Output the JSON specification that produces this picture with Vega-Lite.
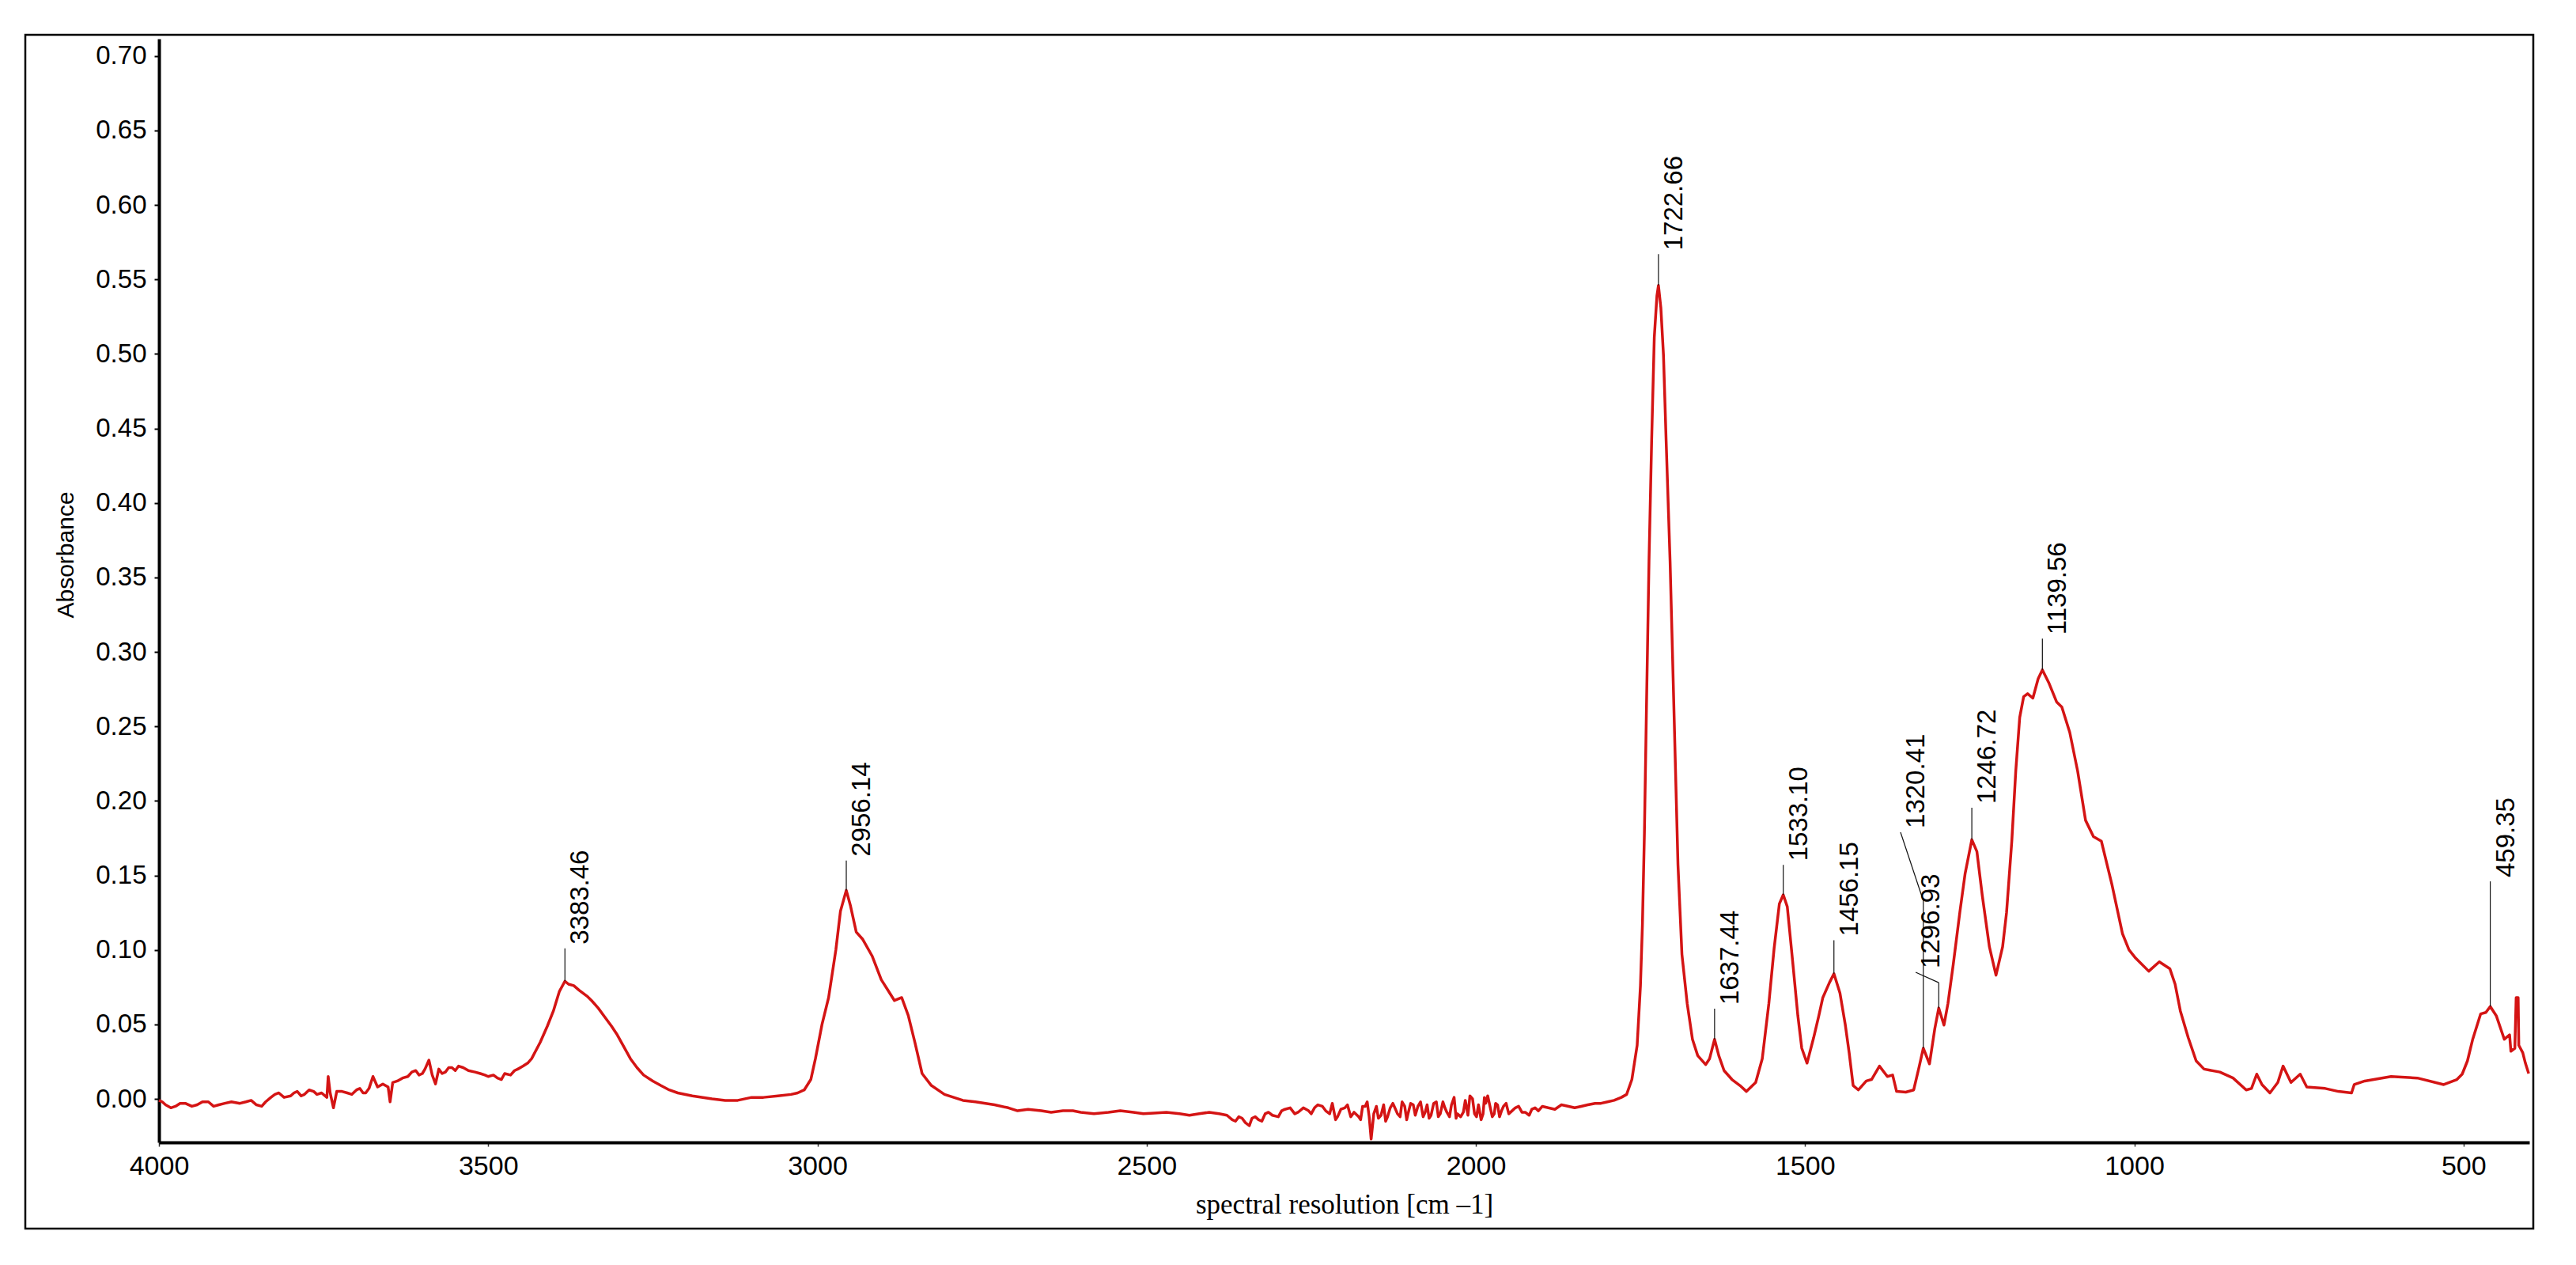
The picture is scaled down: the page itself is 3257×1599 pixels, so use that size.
{
  "$schema": "https://vega.github.io/schema/vega-lite/v6.json",
  "width": 3171,
  "height": 1509,
  "autosize": {"type": "none"},
  "padding": {"left": 32, "top": 44, "right": 54, "bottom": 46},
  "background": "white",
  "config": {"view": {"stroke": "black", "strokeWidth": 2.5}, "font": "Liberation Sans"},
  "datasets": {
    "spectrum": [
      {"wavenumber": 4000, "absorbance": -0.001}, {"wavenumber": 3995, "absorbance": -0.002}, {"wavenumber": 3990, "absorbance": -0.004}, {"wavenumber": 3982, "absorbance": -0.006}, {"wavenumber": 3975, "absorbance": -0.005},
      {"wavenumber": 3968, "absorbance": -0.003}, {"wavenumber": 3960, "absorbance": -0.003}, {"wavenumber": 3950, "absorbance": -0.005}, {"wavenumber": 3942, "absorbance": -0.004}, {"wavenumber": 3934, "absorbance": -0.002}, {"wavenumber": 3925, "absorbance": -0.002},
      {"wavenumber": 3917, "absorbance": -0.005}, {"wavenumber": 3909, "absorbance": -0.004}, {"wavenumber": 3900, "absorbance": -0.003}, {"wavenumber": 3890, "absorbance": -0.002}, {"wavenumber": 3877, "absorbance": -0.003},
      {"wavenumber": 3868, "absorbance": -0.002}, {"wavenumber": 3860, "absorbance": -0.001}, {"wavenumber": 3852, "absorbance": -0.004}, {"wavenumber": 3844, "absorbance": -0.005}, {"wavenumber": 3838, "absorbance": -0.002}, {"wavenumber": 3830, "absorbance": 0.001},
      {"wavenumber": 3824, "absorbance": 0.003}, {"wavenumber": 3818, "absorbance": 0.004}, {"wavenumber": 3810, "absorbance": 0.001}, {"wavenumber": 3800, "absorbance": 0.002}, {"wavenumber": 3795, "absorbance": 0.004}, {"wavenumber": 3790, "absorbance": 0.005},
      {"wavenumber": 3784, "absorbance": 0.002}, {"wavenumber": 3779, "absorbance": 0.003}, {"wavenumber": 3772, "absorbance": 0.006}, {"wavenumber": 3765, "absorbance": 0.005}, {"wavenumber": 3760, "absorbance": 0.003}, {"wavenumber": 3753, "absorbance": 0.004},
      {"wavenumber": 3745, "absorbance": 0.001}, {"wavenumber": 3743, "absorbance": 0.015}, {"wavenumber": 3740, "absorbance": 0.004},
      {"wavenumber": 3735, "absorbance": -0.006}, {"wavenumber": 3730, "absorbance": 0.005}, {"wavenumber": 3722, "absorbance": 0.005}, {"wavenumber": 3714, "absorbance": 0.004}, {"wavenumber": 3707, "absorbance": 0.003},
      {"wavenumber": 3700, "absorbance": 0.006}, {"wavenumber": 3695, "absorbance": 0.007}, {"wavenumber": 3690, "absorbance": 0.004}, {"wavenumber": 3686, "absorbance": 0.004}, {"wavenumber": 3681, "absorbance": 0.007},
      {"wavenumber": 3675, "absorbance": 0.015}, {"wavenumber": 3668, "absorbance": 0.008}, {"wavenumber": 3660, "absorbance": 0.010},
      {"wavenumber": 3652, "absorbance": 0.008}, {"wavenumber": 3649, "absorbance": -0.002}, {"wavenumber": 3645, "absorbance": 0.011}, {"wavenumber": 3638, "absorbance": 0.012},
      {"wavenumber": 3630, "absorbance": 0.014}, {"wavenumber": 3622, "absorbance": 0.015}, {"wavenumber": 3616, "absorbance": 0.018}, {"wavenumber": 3610, "absorbance": 0.019}, {"wavenumber": 3605, "absorbance": 0.016}, {"wavenumber": 3600, "absorbance": 0.017},
      {"wavenumber": 3596, "absorbance": 0.020}, {"wavenumber": 3590, "absorbance": 0.026}, {"wavenumber": 3585, "absorbance": 0.016},
      {"wavenumber": 3580, "absorbance": 0.010}, {"wavenumber": 3575, "absorbance": 0.020}, {"wavenumber": 3570, "absorbance": 0.017}, {"wavenumber": 3565, "absorbance": 0.018}, {"wavenumber": 3560, "absorbance": 0.021},
      {"wavenumber": 3555, "absorbance": 0.021}, {"wavenumber": 3550, "absorbance": 0.019}, {"wavenumber": 3545, "absorbance": 0.022}, {"wavenumber": 3538, "absorbance": 0.021}, {"wavenumber": 3530, "absorbance": 0.019}, {"wavenumber": 3520, "absorbance": 0.018},
      {"wavenumber": 3512, "absorbance": 0.017}, {"wavenumber": 3505, "absorbance": 0.016}, {"wavenumber": 3500, "absorbance": 0.015}, {"wavenumber": 3492, "absorbance": 0.016}, {"wavenumber": 3486, "absorbance": 0.014}, {"wavenumber": 3480, "absorbance": 0.013},
      {"wavenumber": 3475, "absorbance": 0.017}, {"wavenumber": 3466, "absorbance": 0.016}, {"wavenumber": 3460, "absorbance": 0.019}, {"wavenumber": 3455, "absorbance": 0.020},
      {"wavenumber": 3447, "absorbance": 0.022}, {"wavenumber": 3440, "absorbance": 0.024}, {"wavenumber": 3434, "absorbance": 0.027}, {"wavenumber": 3421, "absorbance": 0.038},
      {"wavenumber": 3410, "absorbance": 0.049}, {"wavenumber": 3401, "absorbance": 0.059}, {"wavenumber": 3392, "absorbance": 0.072},
      {"wavenumber": 3383.46, "absorbance": 0.079}, {"wavenumber": 3378, "absorbance": 0.077}, {"wavenumber": 3370, "absorbance": 0.076},
      {"wavenumber": 3362, "absorbance": 0.073}, {"wavenumber": 3350, "absorbance": 0.069}, {"wavenumber": 3343, "absorbance": 0.066},
      {"wavenumber": 3333, "absorbance": 0.061}, {"wavenumber": 3323, "absorbance": 0.055}, {"wavenumber": 3313, "absorbance": 0.049},
      {"wavenumber": 3304, "absorbance": 0.043}, {"wavenumber": 3294, "absorbance": 0.035}, {"wavenumber": 3284, "absorbance": 0.027},
      {"wavenumber": 3274, "absorbance": 0.021}, {"wavenumber": 3264, "absorbance": 0.016}, {"wavenumber": 3250, "absorbance": 0.012},
      {"wavenumber": 3238, "absorbance": 0.009}, {"wavenumber": 3225, "absorbance": 0.006}, {"wavenumber": 3212, "absorbance": 0.004},
      {"wavenumber": 3190, "absorbance": 0.002}, {"wavenumber": 3160, "absorbance": 0.000}, {"wavenumber": 3140, "absorbance": -0.001},
      {"wavenumber": 3121, "absorbance": -0.001}, {"wavenumber": 3100, "absorbance": 0.001}, {"wavenumber": 3082, "absorbance": 0.001},
      {"wavenumber": 3060, "absorbance": 0.002}, {"wavenumber": 3040, "absorbance": 0.003}, {"wavenumber": 3030, "absorbance": 0.004},
      {"wavenumber": 3020, "absorbance": 0.006}, {"wavenumber": 3010, "absorbance": 0.013}, {"wavenumber": 3003, "absorbance": 0.027},
      {"wavenumber": 2993, "absorbance": 0.050}, {"wavenumber": 2983, "absorbance": 0.068}, {"wavenumber": 2972, "absorbance": 0.100},
      {"wavenumber": 2965, "absorbance": 0.126}, {"wavenumber": 2956.14, "absorbance": 0.140}, {"wavenumber": 2950, "absorbance": 0.130},
      {"wavenumber": 2941, "absorbance": 0.112}, {"wavenumber": 2931, "absorbance": 0.107}, {"wavenumber": 2917, "absorbance": 0.096},
      {"wavenumber": 2903, "absorbance": 0.080}, {"wavenumber": 2893, "absorbance": 0.073}, {"wavenumber": 2883, "absorbance": 0.066},
      {"wavenumber": 2872, "absorbance": 0.068}, {"wavenumber": 2862, "absorbance": 0.056}, {"wavenumber": 2852, "absorbance": 0.038},
      {"wavenumber": 2841, "absorbance": 0.017}, {"wavenumber": 2827, "absorbance": 0.009}, {"wavenumber": 2807, "absorbance": 0.003},
      {"wavenumber": 2779, "absorbance": -0.001}, {"wavenumber": 2760, "absorbance": -0.002}, {"wavenumber": 2731, "absorbance": -0.004},
      {"wavenumber": 2710, "absorbance": -0.006}, {"wavenumber": 2696, "absorbance": -0.008}, {"wavenumber": 2680, "absorbance": -0.007}, {"wavenumber": 2660, "absorbance": -0.008},
      {"wavenumber": 2645, "absorbance": -0.009}, {"wavenumber": 2627, "absorbance": -0.008}, {"wavenumber": 2612, "absorbance": -0.008}, {"wavenumber": 2600, "absorbance": -0.009}, {"wavenumber": 2580, "absorbance": -0.010}, {"wavenumber": 2558, "absorbance": -0.009},
      {"wavenumber": 2540, "absorbance": -0.008}, {"wavenumber": 2520, "absorbance": -0.009}, {"wavenumber": 2505, "absorbance": -0.010}, {"wavenumber": 2489, "absorbance": -0.0096}, {"wavenumber": 2470, "absorbance": -0.009}, {"wavenumber": 2450, "absorbance": -0.010},
      {"wavenumber": 2435, "absorbance": -0.011}, {"wavenumber": 2420, "absorbance": -0.010}, {"wavenumber": 2405, "absorbance": -0.009}, {"wavenumber": 2390, "absorbance": -0.010}, {"wavenumber": 2378, "absorbance": -0.011},
      {"wavenumber": 2370, "absorbance": -0.014}, {"wavenumber": 2365, "absorbance": -0.015}, {"wavenumber": 2360, "absorbance": -0.012}, {"wavenumber": 2355, "absorbance": -0.013}, {"wavenumber": 2350, "absorbance": -0.016},
      {"wavenumber": 2344, "absorbance": -0.018}, {"wavenumber": 2340, "absorbance": -0.013}, {"wavenumber": 2335, "absorbance": -0.012}, {"wavenumber": 2330, "absorbance": -0.014}, {"wavenumber": 2325, "absorbance": -0.015},
      {"wavenumber": 2320, "absorbance": -0.010}, {"wavenumber": 2315, "absorbance": -0.009}, {"wavenumber": 2309, "absorbance": -0.011}, {"wavenumber": 2300, "absorbance": -0.012}, {"wavenumber": 2295, "absorbance": -0.008},
      {"wavenumber": 2290, "absorbance": -0.007}, {"wavenumber": 2282, "absorbance": -0.006}, {"wavenumber": 2275, "absorbance": -0.010}, {"wavenumber": 2270, "absorbance": -0.009}, {"wavenumber": 2262, "absorbance": -0.006}, {"wavenumber": 2254, "absorbance": -0.008},
      {"wavenumber": 2250, "absorbance": -0.010}, {"wavenumber": 2245, "absorbance": -0.006}, {"wavenumber": 2240, "absorbance": -0.004}, {"wavenumber": 2233, "absorbance": -0.005}, {"wavenumber": 2228, "absorbance": -0.008}, {"wavenumber": 2222, "absorbance": -0.010},
      {"wavenumber": 2218, "absorbance": -0.003}, {"wavenumber": 2213, "absorbance": -0.014}, {"wavenumber": 2210, "absorbance": -0.012}, {"wavenumber": 2205, "absorbance": -0.007}, {"wavenumber": 2199, "absorbance": -0.006},
      {"wavenumber": 2195, "absorbance": -0.004}, {"wavenumber": 2190, "absorbance": -0.012}, {"wavenumber": 2185, "absorbance": -0.009}, {"wavenumber": 2178, "absorbance": -0.012}, {"wavenumber": 2175, "absorbance": -0.014}, {"wavenumber": 2172, "absorbance": -0.005},
      {"wavenumber": 2168, "absorbance": -0.005}, {"wavenumber": 2165, "absorbance": -0.002}, {"wavenumber": 2162, "absorbance": -0.012}, {"wavenumber": 2159, "absorbance": -0.027},
      {"wavenumber": 2155, "absorbance": -0.010}, {"wavenumber": 2151, "absorbance": -0.005}, {"wavenumber": 2148, "absorbance": -0.013}, {"wavenumber": 2144, "absorbance": -0.011},
      {"wavenumber": 2140, "absorbance": -0.004}, {"wavenumber": 2137, "absorbance": -0.015}, {"wavenumber": 2134, "absorbance": -0.012}, {"wavenumber": 2130, "absorbance": -0.006}, {"wavenumber": 2126, "absorbance": -0.003}, {"wavenumber": 2123, "absorbance": -0.006},
      {"wavenumber": 2119, "absorbance": -0.010}, {"wavenumber": 2115, "absorbance": -0.012}, {"wavenumber": 2112, "absorbance": -0.002}, {"wavenumber": 2108, "absorbance": -0.005}, {"wavenumber": 2105, "absorbance": -0.014}, {"wavenumber": 2103, "absorbance": -0.010},
      {"wavenumber": 2099, "absorbance": -0.003}, {"wavenumber": 2095, "absorbance": -0.004}, {"wavenumber": 2092, "absorbance": -0.011}, {"wavenumber": 2088, "absorbance": -0.005}, {"wavenumber": 2084, "absorbance": -0.002}, {"wavenumber": 2080, "absorbance": -0.012},
      {"wavenumber": 2077, "absorbance": -0.009}, {"wavenumber": 2074, "absorbance": -0.004}, {"wavenumber": 2071, "absorbance": -0.013}, {"wavenumber": 2068, "absorbance": -0.011}, {"wavenumber": 2064, "absorbance": -0.003}, {"wavenumber": 2060, "absorbance": -0.002},
      {"wavenumber": 2057, "absorbance": -0.012}, {"wavenumber": 2054, "absorbance": -0.010}, {"wavenumber": 2050, "absorbance": -0.002}, {"wavenumber": 2047, "absorbance": -0.006}, {"wavenumber": 2044, "absorbance": -0.009}, {"wavenumber": 2040, "absorbance": -0.012},
      {"wavenumber": 2037, "absorbance": -0.004}, {"wavenumber": 2033, "absorbance": 0.001}, {"wavenumber": 2030, "absorbance": -0.013}, {"wavenumber": 2028, "absorbance": -0.010}, {"wavenumber": 2023, "absorbance": -0.012},
      {"wavenumber": 2019, "absorbance": -0.009}, {"wavenumber": 2016, "absorbance": -0.001}, {"wavenumber": 2012, "absorbance": -0.011}, {"wavenumber": 2009, "absorbance": 0.002}, {"wavenumber": 2005, "absorbance": 0.000}, {"wavenumber": 2002, "absorbance": -0.010},
      {"wavenumber": 1999, "absorbance": -0.012}, {"wavenumber": 1996, "absorbance": -0.004}, {"wavenumber": 1992, "absorbance": -0.014}, {"wavenumber": 1989, "absorbance": -0.010}, {"wavenumber": 1987, "absorbance": 0.001}, {"wavenumber": 1985, "absorbance": -0.003},
      {"wavenumber": 1982, "absorbance": 0.002}, {"wavenumber": 1978, "absorbance": -0.006}, {"wavenumber": 1975, "absorbance": -0.012}, {"wavenumber": 1972, "absorbance": -0.010}, {"wavenumber": 1970, "absorbance": -0.003}, {"wavenumber": 1967, "absorbance": -0.004},
      {"wavenumber": 1964, "absorbance": -0.012}, {"wavenumber": 1961, "absorbance": -0.008}, {"wavenumber": 1958, "absorbance": -0.005}, {"wavenumber": 1954, "absorbance": -0.003}, {"wavenumber": 1950, "absorbance": -0.010}, {"wavenumber": 1945, "absorbance": -0.008},
      {"wavenumber": 1940, "absorbance": -0.006}, {"wavenumber": 1935, "absorbance": -0.005}, {"wavenumber": 1930, "absorbance": -0.009}, {"wavenumber": 1925, "absorbance": -0.009}, {"wavenumber": 1919, "absorbance": -0.011}, {"wavenumber": 1915, "absorbance": -0.007},
      {"wavenumber": 1910, "absorbance": -0.006}, {"wavenumber": 1905, "absorbance": -0.008}, {"wavenumber": 1899, "absorbance": -0.005}, {"wavenumber": 1890, "absorbance": -0.006}, {"wavenumber": 1880, "absorbance": -0.007}, {"wavenumber": 1870, "absorbance": -0.004},
      {"wavenumber": 1859, "absorbance": -0.005}, {"wavenumber": 1850, "absorbance": -0.006}, {"wavenumber": 1840, "absorbance": -0.005}, {"wavenumber": 1830, "absorbance": -0.004}, {"wavenumber": 1819, "absorbance": -0.003}, {"wavenumber": 1810, "absorbance": -0.003},
      {"wavenumber": 1800, "absorbance": -0.002}, {"wavenumber": 1790, "absorbance": -0.001}, {"wavenumber": 1779, "absorbance": 0.001}, {"wavenumber": 1771, "absorbance": 0.003},
      {"wavenumber": 1763, "absorbance": 0.013}, {"wavenumber": 1755, "absorbance": 0.036}, {"wavenumber": 1750, "absorbance": 0.076},
      {"wavenumber": 1747, "absorbance": 0.117}, {"wavenumber": 1744, "absorbance": 0.178}, {"wavenumber": 1741, "absorbance": 0.259},
      {"wavenumber": 1737, "absorbance": 0.361}, {"wavenumber": 1733, "absorbance": 0.442}, {"wavenumber": 1729, "absorbance": 0.511},
      {"wavenumber": 1725, "absorbance": 0.539}, {"wavenumber": 1722.66, "absorbance": 0.546}, {"wavenumber": 1719, "absorbance": 0.531},
      {"wavenumber": 1715, "absorbance": 0.499}, {"wavenumber": 1711, "absorbance": 0.442}, {"wavenumber": 1705, "absorbance": 0.361},
      {"wavenumber": 1699, "absorbance": 0.259}, {"wavenumber": 1693, "absorbance": 0.157}, {"wavenumber": 1687, "absorbance": 0.097},
      {"wavenumber": 1679, "absorbance": 0.064}, {"wavenumber": 1671, "absorbance": 0.040}, {"wavenumber": 1663, "absorbance": 0.029},
      {"wavenumber": 1651, "absorbance": 0.023}, {"wavenumber": 1645, "absorbance": 0.027}, {"wavenumber": 1637.44, "absorbance": 0.040},
      {"wavenumber": 1631, "absorbance": 0.029}, {"wavenumber": 1623, "absorbance": 0.019}, {"wavenumber": 1611, "absorbance": 0.013},
      {"wavenumber": 1599, "absorbance": 0.009}, {"wavenumber": 1589, "absorbance": 0.005}, {"wavenumber": 1575, "absorbance": 0.011},
      {"wavenumber": 1565, "absorbance": 0.027}, {"wavenumber": 1555, "absorbance": 0.064}, {"wavenumber": 1547, "absorbance": 0.101},
      {"wavenumber": 1539, "absorbance": 0.131}, {"wavenumber": 1533.1, "absorbance": 0.137}, {"wavenumber": 1527, "absorbance": 0.129},
      {"wavenumber": 1519, "absorbance": 0.093}, {"wavenumber": 1511, "absorbance": 0.056}, {"wavenumber": 1505, "absorbance": 0.034},
      {"wavenumber": 1497, "absorbance": 0.024}, {"wavenumber": 1487, "absorbance": 0.041}, {"wavenumber": 1479, "absorbance": 0.056},
      {"wavenumber": 1473, "absorbance": 0.068}, {"wavenumber": 1463, "absorbance": 0.078}, {"wavenumber": 1456.15, "absorbance": 0.084},
      {"wavenumber": 1447, "absorbance": 0.071}, {"wavenumber": 1439, "absorbance": 0.050}, {"wavenumber": 1433, "absorbance": 0.031},
      {"wavenumber": 1427, "absorbance": 0.009}, {"wavenumber": 1419, "absorbance": 0.006}, {"wavenumber": 1407, "absorbance": 0.012},
      {"wavenumber": 1399, "absorbance": 0.013}, {"wavenumber": 1387, "absorbance": 0.022}, {"wavenumber": 1375, "absorbance": 0.015},
      {"wavenumber": 1367, "absorbance": 0.016}, {"wavenumber": 1361, "absorbance": 0.005}, {"wavenumber": 1347, "absorbance": 0.0045},
      {"wavenumber": 1335, "absorbance": 0.006}, {"wavenumber": 1327, "absorbance": 0.021}, {"wavenumber": 1320.41, "absorbance": 0.034},
      {"wavenumber": 1311, "absorbance": 0.0235}, {"wavenumber": 1303, "absorbance": 0.047}, {"wavenumber": 1296.93, "absorbance": 0.061},
      {"wavenumber": 1289, "absorbance": 0.0495}, {"wavenumber": 1283, "absorbance": 0.064}, {"wavenumber": 1275, "absorbance": 0.090},
      {"wavenumber": 1265, "absorbance": 0.125}, {"wavenumber": 1257, "absorbance": 0.151}, {"wavenumber": 1246.72, "absorbance": 0.174},
      {"wavenumber": 1239, "absorbance": 0.166}, {"wavenumber": 1231, "absorbance": 0.137}, {"wavenumber": 1220, "absorbance": 0.102},
      {"wavenumber": 1210, "absorbance": 0.083}, {"wavenumber": 1200, "absorbance": 0.102}, {"wavenumber": 1194, "absorbance": 0.125},
      {"wavenumber": 1186, "absorbance": 0.173}, {"wavenumber": 1180, "absorbance": 0.220}, {"wavenumber": 1174, "absorbance": 0.256},
      {"wavenumber": 1168, "absorbance": 0.270}, {"wavenumber": 1162, "absorbance": 0.272}, {"wavenumber": 1154, "absorbance": 0.269},
      {"wavenumber": 1146, "absorbance": 0.282}, {"wavenumber": 1139.56, "absorbance": 0.288}, {"wavenumber": 1130, "absorbance": 0.2795},
      {"wavenumber": 1118, "absorbance": 0.2665}, {"wavenumber": 1110, "absorbance": 0.263}, {"wavenumber": 1098, "absorbance": 0.246},
      {"wavenumber": 1086, "absorbance": 0.220}, {"wavenumber": 1074, "absorbance": 0.187}, {"wavenumber": 1062, "absorbance": 0.176},
      {"wavenumber": 1050, "absorbance": 0.173}, {"wavenumber": 1034, "absorbance": 0.144}, {"wavenumber": 1018, "absorbance": 0.111},
      {"wavenumber": 1008, "absorbance": 0.100}, {"wavenumber": 998, "absorbance": 0.0945}, {"wavenumber": 978, "absorbance": 0.0857},
      {"wavenumber": 962, "absorbance": 0.092}, {"wavenumber": 946, "absorbance": 0.0874}, {"wavenumber": 938, "absorbance": 0.077},
      {"wavenumber": 930, "absorbance": 0.059}, {"wavenumber": 918, "absorbance": 0.041}, {"wavenumber": 906, "absorbance": 0.0255},
      {"wavenumber": 894, "absorbance": 0.020}, {"wavenumber": 870, "absorbance": 0.018}, {"wavenumber": 850, "absorbance": 0.014},
      {"wavenumber": 830, "absorbance": 0.006}, {"wavenumber": 822, "absorbance": 0.007}, {"wavenumber": 814, "absorbance": 0.0166},
      {"wavenumber": 806, "absorbance": 0.0096}, {"wavenumber": 794, "absorbance": 0.004}, {"wavenumber": 782, "absorbance": 0.011},
      {"wavenumber": 774, "absorbance": 0.022}, {"wavenumber": 762, "absorbance": 0.011}, {"wavenumber": 748, "absorbance": 0.0166},
      {"wavenumber": 738, "absorbance": 0.008}, {"wavenumber": 710, "absorbance": 0.007}, {"wavenumber": 690, "absorbance": 0.005},
      {"wavenumber": 670, "absorbance": 0.004}, {"wavenumber": 666, "absorbance": 0.0096}, {"wavenumber": 650, "absorbance": 0.012},
      {"wavenumber": 610, "absorbance": 0.015}, {"wavenumber": 570, "absorbance": 0.014}, {"wavenumber": 530, "absorbance": 0.0096},
      {"wavenumber": 510, "absorbance": 0.013}, {"wavenumber": 502, "absorbance": 0.0166}, {"wavenumber": 494, "absorbance": 0.0255},
      {"wavenumber": 486, "absorbance": 0.040}, {"wavenumber": 474, "absorbance": 0.057}, {"wavenumber": 466, "absorbance": 0.058},
      {"wavenumber": 459.35, "absorbance": 0.062}, {"wavenumber": 450, "absorbance": 0.0556}, {"wavenumber": 438, "absorbance": 0.040},
      {"wavenumber": 430, "absorbance": 0.043}, {"wavenumber": 428, "absorbance": 0.032}, {"wavenumber": 422, "absorbance": 0.034},
      {"wavenumber": 420, "absorbance": 0.068}, {"wavenumber": 417, "absorbance": 0.068}, {"wavenumber": 416, "absorbance": 0.036},
      {"wavenumber": 410, "absorbance": 0.031}, {"wavenumber": 406, "absorbance": 0.024}, {"wavenumber": 401, "absorbance": 0.017}
    ],
    "peaks": [
      {"label": "3383.46", "w": 3383.46, "v": 0.079, "bv": 0.101, "lw": 3383.46, "lv": 0.101},
      {"label": "2956.14", "w": 2956.14, "v": 0.140, "bv": 0.160, "lw": 2956.14, "lv": 0.160},
      {"label": "1722.66", "w": 1722.66, "v": 0.546, "bv": 0.567, "lw": 1722.66, "lv": 0.567},
      {"label": "1637.44", "w": 1637.44, "v": 0.040, "bv": 0.0605, "lw": 1637.44, "lv": 0.0605},
      {"label": "1533.10", "w": 1533.1, "v": 0.137, "bv": 0.157, "lw": 1533.1, "lv": 0.157},
      {"label": "1456.15", "w": 1456.15, "v": 0.084, "bv": 0.1065, "lw": 1456.15, "lv": 0.1065},
      {"label": "1320.41", "w": 1320.41, "v": 0.034, "bv": 0.133, "lw": 1355, "lv": 0.179},
      {"label": "1296.93", "w": 1296.93, "v": 0.061, "bv": 0.078, "lw": 1332, "lv": 0.085},
      {"label": "1246.72", "w": 1246.72, "v": 0.174, "bv": 0.1954, "lw": 1246.72, "lv": 0.1954},
      {"label": "1139.56", "w": 1139.56, "v": 0.288, "bv": 0.309, "lw": 1139.56, "lv": 0.309},
      {"label": "459.35", "w": 459.35, "v": 0.062, "bv": 0.146, "lw": 459.35, "lv": 0.146}
    ]
  },
  "layer": [
    {
      "data": {"name": "spectrum"},
      "mark": {"type": "line", "color": "#d41414", "strokeWidth": 3.5, "strokeJoin": "round"},
      "encoding": {
        "x": {
          "field": "wavenumber", "type": "quantitative", "title": "spectral resolution [cm –1]",
          "scale": {"domain": [400, 4000], "range": [3166, 169], "nice": false, "zero": false},
          "axis": {
            "values": [4000, 3500, 3000, 2500, 2000, 1500, 1000, 500], "format": "d",
            "labelFont": "Liberation Sans", "labelFontSize": 34, "labelColor": "black", "labelPadding": 8,
            "labelFlush": false, "labelOverlap": false,
            "tickSize": 5, "tickWidth": 1.5, "tickColor": "#333333",
            "domainColor": "black", "domainWidth": 4, "grid": false, "offset": -109,
            "titleFont": "Liberation Serif", "titleFontSize": 35, "titleFontWeight": "normal", "titleColor": "black", "titlePadding": 14
          }
        },
        "y": {
          "field": "absorbance", "type": "quantitative", "title": "Absorbance",
          "scale": {"domain": [-0.0292, 0.7116], "range": [1400, 5], "nice": false, "zero": false},
          "axis": {
            "values": [0, 0.05, 0.1, 0.15, 0.2, 0.25, 0.3, 0.35, 0.4, 0.45, 0.5, 0.55, 0.6, 0.65, 0.7], "format": ".2f",
            "labelFont": "Liberation Sans", "labelFontSize": 33, "labelColor": "black", "labelPadding": 10,
            "labelOverlap": false, "labelFlush": false,
            "tickSize": 6, "tickWidth": 2, "tickColor": "black",
            "domainColor": "black", "domainWidth": 4, "grid": false, "offset": -169,
            "titleFont": "Liberation Sans", "titleFontSize": 30, "titleFontWeight": "normal", "titleColor": "black", "titlePadding": 22,
            "titleY": 657
          }
        }
      }
    },
    {
      "data": {"name": "peaks"},
      "mark": {"type": "rule", "color": "#111111", "strokeWidth": 1.2},
      "encoding": {
        "x": {"field": "w", "type": "quantitative", "title": "spectral resolution [cm –1]", "scale": {"domain": [400, 4000], "range": [3166, 169], "nice": false, "zero": false}},
        "y": {"field": "v", "type": "quantitative", "title": "Absorbance", "scale": {"domain": [-0.0292, 0.7116], "range": [1400, 5], "nice": false, "zero": false}},
        "y2": {"field": "bv"}
      }
    },
    {
      "data": {"name": "peaks"},
      "mark": {"type": "rule", "color": "#111111", "strokeWidth": 1.2},
      "encoding": {
        "x": {"field": "w", "type": "quantitative", "title": "spectral resolution [cm –1]", "scale": {"domain": [400, 4000], "range": [3166, 169], "nice": false, "zero": false}},
        "y": {"field": "bv", "type": "quantitative", "title": "Absorbance", "scale": {"domain": [-0.0292, 0.7116], "range": [1400, 5], "nice": false, "zero": false}},
        "x2": {"field": "lw"},
        "y2": {"field": "lv"}
      }
    },
    {
      "data": {"name": "peaks"},
      "mark": {"type": "text", "angle": 270, "align": "left", "baseline": "middle", "dx": 5, "dy": 20, "fontSize": 33, "font": "Liberation Sans", "color": "black"},
      "encoding": {
        "x": {"field": "lw", "type": "quantitative", "title": "spectral resolution [cm –1]", "scale": {"domain": [400, 4000], "range": [3166, 169], "nice": false, "zero": false}},
        "y": {"field": "lv", "type": "quantitative", "title": "Absorbance", "scale": {"domain": [-0.0292, 0.7116], "range": [1400, 5], "nice": false, "zero": false}},
        "text": {"field": "label"}
      }
    }
  ]
}
